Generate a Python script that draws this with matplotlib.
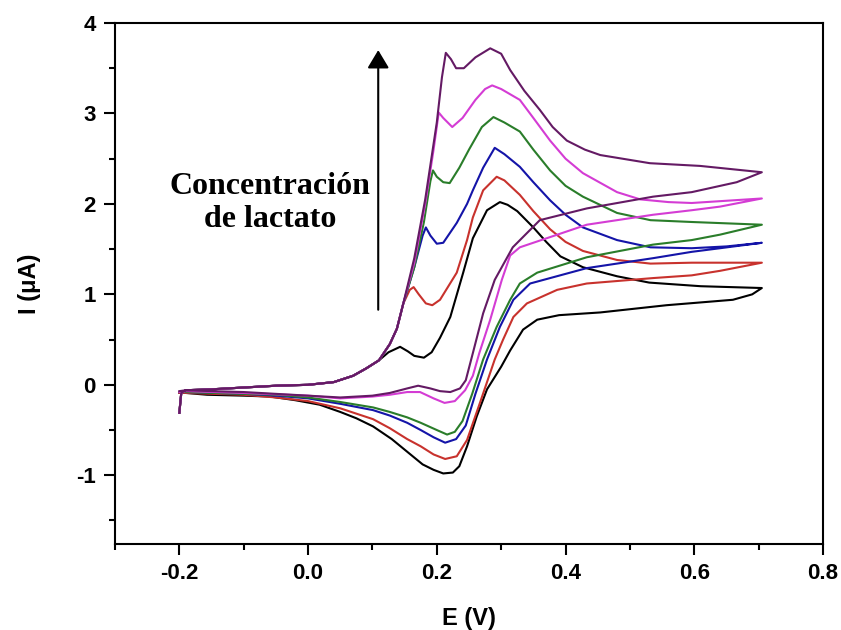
import numpy as np
import matplotlib
matplotlib.use('Agg')
import matplotlib.pyplot as plt
from matplotlib.ticker import MultipleLocator

plt.rcParams['axes.unicode_minus'] = False
plt.rcParams['font.family'] = ['Liberation Sans', 'DejaVu Sans']

# 扫描起点（各曲线共用的阳极支前段）
e_start = [-0.2, -0.197, -0.19, -0.15, -0.1, -0.05, 0.0, 0.04, 0.07, 0.09, 0.11]
i_start = [-0.31, -0.09, -0.06, -0.05, -0.03, -0.01, 0.0, 0.03, 0.1, 0.18, 0.27]
e_rise = [0.127, 0.138, 0.148]
i_rise = [0.45, 0.62, 0.9]

# 黑色
e_black_up = [0.125, 0.143, 0.155, 0.165, 0.18, 0.192, 0.205, 0.221, 0.241, 0.256, 0.278, 0.298,
              0.31, 0.325, 0.35, 0.37, 0.392, 0.427, 0.48, 0.53, 0.61, 0.705]
i_black_up = [0.36, 0.42, 0.37, 0.32, 0.30, 0.36, 0.52, 0.75, 1.24, 1.62, 1.93, 2.02,
              1.99, 1.92, 1.74, 1.58, 1.42, 1.30, 1.20, 1.13, 1.09, 1.07]
e_black_dn = [0.69, 0.66, 0.557, 0.454, 0.39, 0.356, 0.334, 0.314, 0.30, 0.278, 0.262, 0.247,
              0.235, 0.225, 0.21, 0.195, 0.178, 0.154, 0.13, 0.101, 0.075, 0.05, 0.018,
              -0.02, -0.059, -0.1, -0.157, -0.19, -0.2]
i_black_dn = [1.0, 0.94, 0.88, 0.80, 0.77, 0.72, 0.61, 0.38, 0.2, -0.05, -0.35, -0.68,
              -0.9, -0.97, -0.98, -0.94, -0.88, -0.74, -0.6, -0.46, -0.37, -0.30, -0.22,
              -0.17, -0.13, -0.12, -0.11, -0.09, -0.09]

# 红色
e_red_up = [0.158, 0.164, 0.172, 0.183, 0.193, 0.205, 0.231, 0.247, 0.256, 0.272, 0.293, 0.305,
            0.329, 0.35, 0.376, 0.4, 0.427, 0.48, 0.532, 0.596, 0.705]
i_red_up = [1.05, 1.08, 1.0, 0.9, 0.88, 0.94, 1.24, 1.6, 1.85, 2.15, 2.30, 2.26,
            2.10, 1.92, 1.72, 1.58, 1.48, 1.38, 1.34, 1.35, 1.35]
e_red_dn = [0.64, 0.596, 0.536, 0.433, 0.387, 0.34, 0.319, 0.303, 0.29, 0.267, 0.247, 0.231,
            0.213, 0.195, 0.175, 0.154, 0.127, 0.101, 0.05, 0.0, -0.05, -0.1, -0.19, -0.2]
i_red_dn = [1.26, 1.21, 1.18, 1.12, 1.05, 0.9, 0.75, 0.5, 0.28, -0.2, -0.61, -0.79,
            -0.82, -0.77, -0.68, -0.6, -0.48, -0.38, -0.26, -0.18, -0.14, -0.11, -0.09, -0.09]

# 蓝色
e_blue_up = [0.165, 0.178, 0.183, 0.19, 0.2, 0.21, 0.231, 0.247, 0.256, 0.272, 0.29, 0.305,
             0.329, 0.35, 0.376, 0.4, 0.427, 0.48, 0.532, 0.596, 0.65, 0.705]
i_blue_up = [1.3, 1.65, 1.74, 1.65, 1.56, 1.57, 1.79, 2.0, 2.15, 2.4, 2.62, 2.55,
             2.41, 2.24, 2.04, 1.88, 1.74, 1.60, 1.52, 1.51, 1.53, 1.57]
e_blue_dn = [0.64, 0.596, 0.536, 0.433, 0.345, 0.319, 0.298, 0.278, 0.26, 0.245, 0.23, 0.213,
             0.195, 0.175, 0.154, 0.127, 0.101, 0.05, 0.0, -0.05, -0.1, -0.19, -0.2]
i_blue_dn = [1.51, 1.47, 1.40, 1.29, 1.12, 0.94, 0.64, 0.28, -0.1, -0.45, -0.6, -0.64,
             -0.58, -0.5, -0.42, -0.34, -0.28, -0.21, -0.15, -0.12, -0.1, -0.08, -0.08]

# 绿色
e_green_up = [0.165, 0.18, 0.19, 0.194, 0.2, 0.21, 0.22, 0.235, 0.25, 0.27, 0.288, 0.305,
              0.329, 0.35, 0.376, 0.4, 0.427, 0.48, 0.532, 0.596, 0.705]
i_green_up = [1.3, 1.8, 2.25, 2.37, 2.3, 2.24, 2.23, 2.4, 2.6, 2.85, 2.96, 2.9,
              2.80, 2.6, 2.37, 2.2, 2.08, 1.90, 1.82, 1.80, 1.77]
e_green_dn = [0.64, 0.596, 0.536, 0.433, 0.356, 0.329, 0.314, 0.293, 0.272, 0.255, 0.24, 0.228,
              0.216, 0.2, 0.175, 0.154, 0.127, 0.101, 0.05, 0.0, -0.05, -0.1, -0.19, -0.2]
i_green_dn = [1.66, 1.60, 1.55, 1.41, 1.24, 1.12, 0.94, 0.64, 0.28, -0.1, -0.4, -0.52,
              -0.55, -0.5, -0.42, -0.36, -0.3, -0.25, -0.19, -0.14, -0.11, -0.1, -0.08, -0.08]

# 品红
e_magenta_up = [0.165, 0.182, 0.195, 0.203, 0.21, 0.224, 0.24, 0.26, 0.275, 0.286, 0.3, 0.329,
                0.35, 0.376, 0.4, 0.427, 0.48, 0.516, 0.56, 0.596, 0.705]
i_magenta_up = [1.35, 2.0, 2.6, 3.01, 2.95, 2.85, 2.95, 3.15, 3.27, 3.31, 3.27, 3.15,
                2.95, 2.70, 2.5, 2.34, 2.13, 2.05, 2.02, 2.01, 2.06]
e_magenta_dn = [0.64, 0.596, 0.536, 0.433, 0.329, 0.314, 0.301, 0.283, 0.266, 0.256, 0.244,
                0.228, 0.212, 0.195, 0.174, 0.154, 0.127, 0.1, 0.05, 0.0, -0.1, -0.19, -0.2]
i_magenta_dn = [1.97, 1.93, 1.88, 1.77, 1.52, 1.43, 1.16, 0.72, 0.35, 0.1, -0.06,
                -0.18, -0.2, -0.15, -0.08, -0.08, -0.11, -0.13, -0.15, -0.12, -0.09, -0.07, -0.08]

# 紫色
e_purple_up = [0.165, 0.182, 0.2, 0.208, 0.214, 0.222, 0.23, 0.242, 0.26, 0.283, 0.3, 0.314,
               0.336, 0.36, 0.38, 0.402, 0.43, 0.454, 0.531, 0.609, 0.705]
i_purple_up = [1.4, 2.05, 2.9, 3.4, 3.67, 3.6, 3.5, 3.5, 3.62, 3.72, 3.66, 3.48,
               3.25, 3.04, 2.85, 2.70, 2.6, 2.54, 2.45, 2.42, 2.35]
e_purple_dn = [0.666, 0.596, 0.536, 0.433, 0.36, 0.318, 0.29, 0.272, 0.256, 0.245, 0.236,
               0.221, 0.205, 0.19, 0.171, 0.154, 0.127, 0.1, 0.05, 0.0, -0.05, -0.1, -0.15,
               -0.19, -0.2]
i_purple_dn = [2.24, 2.13, 2.08, 1.95, 1.82, 1.52, 1.16, 0.79, 0.35, 0.05, -0.04,
               -0.08, -0.07, -0.04, -0.01, -0.04, -0.09, -0.12, -0.14, -0.12, -0.1, -0.08, -0.07,
               -0.06, -0.07]

colors = {'black': '#000000', 'red': '#c8322d', 'blue': '#1414a8',
          'green': '#2a7d2a', 'magenta': '#d43cd4', 'purple': '#641a64'}


def loop(e_up, i_up, e_dn, i_dn, shared_rise=True):
    e = list(e_start) + (list(e_rise) if shared_rise else []) + e_up + e_dn
    i = list(i_start) + (list(i_rise) if shared_rise else []) + i_up + i_dn
    return np.array(e), np.array(i)


fig = plt.figure(figsize=(8.41, 6.30), dpi=100)
ax = fig.add_axes([0.1367, 0.1365, 0.8419, 0.8270])

curves = [
    ('black', e_black_up, i_black_up, e_black_dn, i_black_dn, False),
    ('red', e_red_up, i_red_up, e_red_dn, i_red_dn, True),
    ('blue', e_blue_up, i_blue_up, e_blue_dn, i_blue_dn, True),
    ('green', e_green_up, i_green_up, e_green_dn, i_green_dn, True),
    ('magenta', e_magenta_up, i_magenta_up, e_magenta_dn, i_magenta_dn, True),
    ('purple', e_purple_up, i_purple_up, e_purple_dn, i_purple_dn, True),
]
for name, eu, iu, ed, idn, shared in curves:
    e, i = loop(eu, iu, ed, idn, shared)
    ax.plot(e, i, color=colors[name], lw=1.5)

ax.set_xlim(-0.3, 0.8)
ax.set_ylim(-1.76, 4)
ax.xaxis.set_major_locator(MultipleLocator(0.2))
ax.xaxis.set_minor_locator(MultipleLocator(0.1))
ax.yaxis.set_major_locator(MultipleLocator(1))
ax.yaxis.set_minor_locator(MultipleLocator(0.5))
ax.tick_params(which='both', direction='out', width=1.5, top=False, right=False)
ax.tick_params(which='major', length=8, pad=6, labelsize=16)
ax.tick_params(which='minor', length=4.5)
for lab in ax.get_xticklabels() + ax.get_yticklabels():
    lab.set_fontweight('bold')
for sp in ax.spines.values():
    sp.set_linewidth(1.5)

ax.set_xlabel('E (V)', fontsize=17, fontweight='bold')
ax.set_ylabel('I (μA)', fontsize=17, fontweight='bold')
ax.xaxis.set_label_coords(0.5, -0.12)
ax.yaxis.set_label_coords(-0.105, 0.5)

# 浓度箭头和说明文字
ax.annotate('', xy=(0.109, 3.70), xytext=(0.109, 0.83),
            arrowprops=dict(arrowstyle='-|>,head_length=0.55,head_width=0.33',
                            color='black', lw=1.5, mutation_scale=20, shrinkA=0, shrinkB=0))
ax.text(-0.059, 2.01, 'Concentración\nde lactato', ha='center', va='center',
        multialignment='center', fontsize=23, fontweight='bold', family='Liberation Serif')

fig.savefig('out.png', dpi=100)
